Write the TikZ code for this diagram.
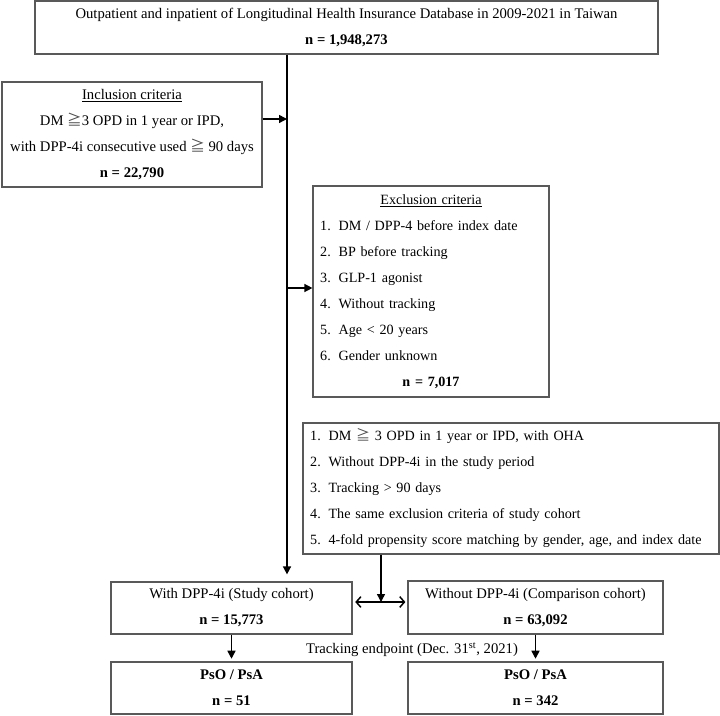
\documentclass[tikz,border=0pt]{standalone}
\usepackage{fontspec}
\setmainfont{Liberation Serif}
\newfontfamily\cjkfont{Noto Sans CJK SC}
\usetikzlibrary{arrows.meta,calc}
\newcommand{\mygeq}{{\cjkfont\color{black!70}≧}}
\newcommand{\itm}[1]{\makebox[1.3em][l]{#1}}
\begin{document}
\begin{tikzpicture}[x=0.75pt,y=-0.75pt,
  box/.style={draw=black!65, line width=0.9pt, inner sep=0pt,
    font=\fontsize{11}{19.5}\selectfont, align=center},
  listbox/.style={box, align=left, inner xsep=5.4pt,
    font=\fontsize{10.6}{19.5}\selectfont},
  arr/.style={line width=1.1pt, -{Triangle[length=6pt,width=6pt]}},
  dbl/.style={line width=1.1pt,
    {Straight Barb[length=3.5pt,width=8pt]}-{Straight Barb[length=3.5pt,width=8pt]}},
  lbl/.style={inner sep=0pt, font=\fontsize{11}{13}\selectfont}
]
\useasboundingbox (0,0) rectangle (720,716);

\node[box, minimum width=467.25pt, minimum height=39.75pt] (top) at (346.5,27.5)
  {Outpatient and inpatient of Longitudinal Health Insurance Database in 2009-2021 in Taiwan\\\textbf{n = 1,948,273}};

\node[box, minimum width=195pt, minimum height=78.75pt] (incl) at (132,134.5)
  {\underline{Inclusion criteria}\\DM \mygeq3 OPD in 1 year or IPD,\\with DPP-4i consecutive used \mygeq\ 90 days\\\textbf{n = 22,790}};

\node[listbox, text width=166.2pt, minimum height=158.25pt] (excl) at (431,291.5)
  {\makebox[\linewidth][c]{\underline{Exclusion criteria}}\\
   \itm{1.}DM / DPP-4 before index date\\
   \itm{2.}BP before tracking\\
   \itm{3.}GLP-1 agonist\\
   \itm{4.}Without tracking\\
   \itm{5.}Age < 20 years\\
   \itm{6.}Gender unknown\\
   \makebox[\linewidth][c]{\textbf{n = 7,017}}};

\node[listbox, text width=301.2pt, minimum height=98.25pt] (crit) at (511,488.5)
  {\itm{1.}DM \mygeq\ 3 OPD in 1 year or IPD, with OHA\\
   \itm{2.}Without DPP-4i in the study period\\
   \itm{3.}Tracking > 90 days\\
   \itm{4.}The same exclusion criteria of study cohort\\
   \itm{5.}4-fold propensity score matching by gender, age, and index date};

\node[box, minimum width=180.75pt, minimum height=39pt] (study) at (231.5,608)
  {With DPP-4i (Study cohort)\\\textbf{n = 15,773}};
\node[box, minimum width=191.25pt, minimum height=39.75pt] (comp) at (535.5,607.5)
  {Without DPP-4i (Comparison cohort)\\\textbf{n = 63,092}};

\node[box, minimum width=180.75pt, minimum height=39pt] (psoa) at (231.5,688)
  {\textbf{PsO / PsA}\\\textbf{n = 51}};
\node[box, minimum width=191.25pt, minimum height=39pt] (psob) at (535.5,688)
  {\textbf{PsO / PsA}\\\textbf{n = 342}};

\node[lbl] (track) at (412,650) {Tracking endpoint (Dec. 31\textsuperscript{st}, 2021)};

% connectors
\coordinate (mx) at (287,0);
\coordinate (j1) at (287,119);
\coordinate (j2) at (287,288);
\coordinate (j3) at (381,602);

\draw[arr, shorten >=5.25pt] (top.south -| mx) -- (study.north -| mx);
\draw[arr] (j1 -| incl.east) -- (j1);
\draw[arr] (j2) -- (j2 -| excl.west);
\draw[arr] (crit.south -| j3) -- (j3);
\draw[dbl, shorten <=2pt, shorten >=1.5pt] (j3 -| study.east) -- (j3 -| comp.west);
\draw[arr, shorten >=2pt] (study.south) -- (psoa.north);
\draw[arr, shorten >=2pt] (comp.south) -- (psob.north);
\end{tikzpicture}
\end{document}
